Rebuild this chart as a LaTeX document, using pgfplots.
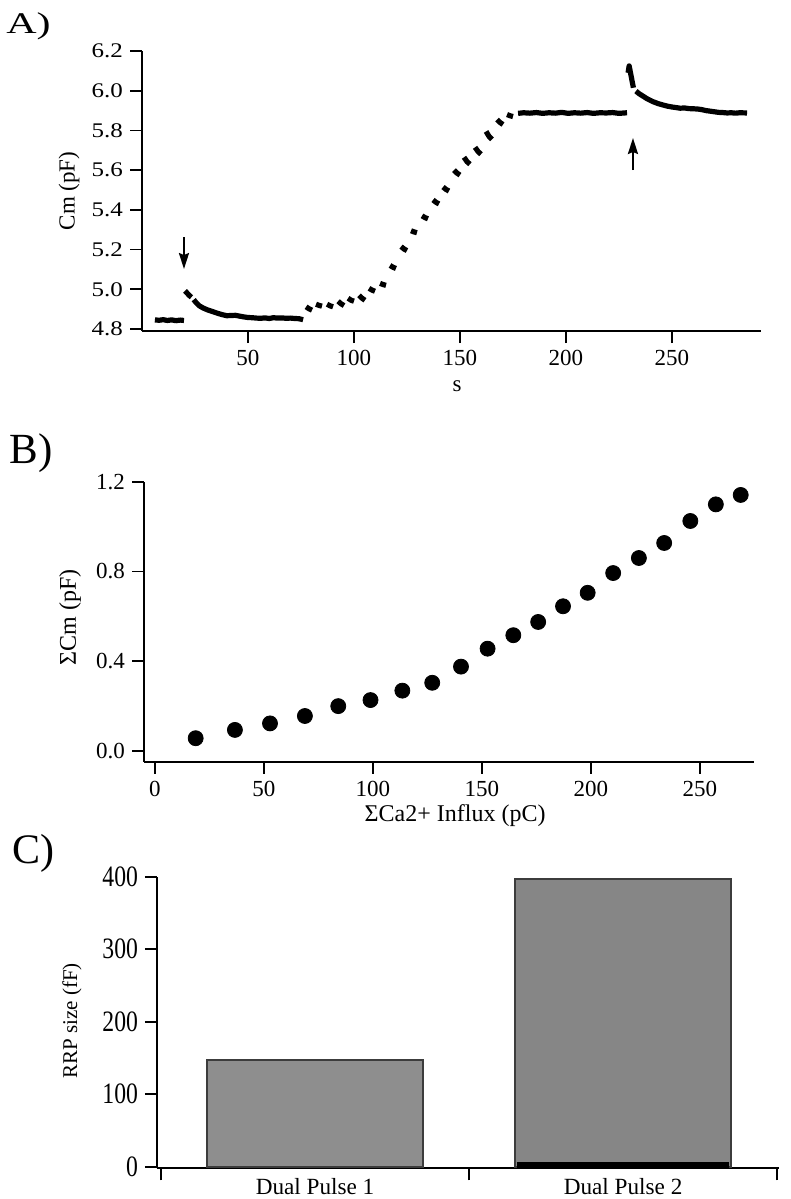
\documentclass[border=0pt]{standalone}
\usepackage{fontspec}
\setmainfont{Liberation Serif}
\newfontfamily\wideserif[FakeStretch=1.2]{Liberation Serif}
\newfontfamily\widerserif[FakeStretch=1.4]{Liberation Serif}
\newfontfamily\narrowserif[FakeStretch=0.8]{Liberation Serif}
\usepackage{graphicx}
\usepackage{pgfplots}
\pgfplotsset{compat=1.18}
\usetikzlibrary{arrows.meta}
\definecolor{barA}{RGB}{142,142,142}
\definecolor{barB}{RGB}{134,134,134}
\definecolor{barEdge}{RGB}{60,60,60}
\pgfplotsset{paper/.style={scale only axis, anchor=south west, axis lines=left,
  axis line style={-, line width=0.9pt}, tick align=outside, major tick length=6pt,
  tick style={line width=0.9pt, black}, clip=false}}
\begin{document}
\begin{tikzpicture}
\path[use as bounding box] (0,0) rectangle (395.5pt,-599.5pt);
\node[anchor=base west, inner sep=0pt, font=\fontsize{15}{16}\widerserif] at (3pt,-16.5pt) {A)};
\node[anchor=base west, inner sep=0pt, font=\fontsize{21.5}{22}\selectfont] at (4.5pt,-231.5pt) {B)};
\node[anchor=base west, inner sep=0pt, font=\fontsize{21}{22}\selectfont] at (6pt,-431.5pt) {C)};
% y-axis titles
\node[rotate=90, anchor=center, inner sep=0pt, font=\fontsize{11.5}{12}\selectfont] at (34.5pt,-95.5pt) {Cm (pF)};
\node[rotate=90, anchor=center, inner sep=0pt, font=\fontsize{12}{13}\selectfont] at (35pt,-308.75pt) {ΣCm (pF)};
\node[rotate=90, anchor=center, inner sep=0pt, font=\fontsize{10.5}{12}\selectfont] at (36pt,-510.5pt) {RRP size (fF)};

% ---------------- Panel A
\begin{axis}[paper, at={(71pt,-165.5pt)}, width=309.5pt, height=140pt,
  xmin=0, xmax=292, ymin=4.79, ymax=6.2,
  xtick={50,100,150,200,250}, xticklabels={50,100,150,200,250},
  ytick={4.8,5.0,5.2,5.4,5.6,5.8,6.0,6.2},
  yticklabels={4.8,5.0,5.2,5.4,5.6,5.8,6.0,6.2},
  xticklabel style={font=\fontsize{11.5}{12}\selectfont},
  yticklabel style={font=\fontsize{10.4}{12}\wideserif},
  xlabel={s},
  every axis x label/.style={at={(axis description cs:0.509,-0.196)}, anchor=center, font=\fontsize{11.5}{12}\selectfont},
  unbounded coords=jump]
\addplot[black, line width=2.6pt, line join=round] coordinates {
(6.1,4.846)(8,4.844)(10,4.847)(12,4.843)(14,4.846)(16,4.842)(18,4.845)(19.8,4.843)
(19.9,nan)
(20.3,4.992)(21.2,4.982)(22.2,4.970)(23.3,4.960)
(23.8,nan)
(24.4,4.948)(25.5,4.933)(27,4.917)(29,4.905)(31,4.896)(33.5,4.887)(36,4.878)(38,4.872)(40,4.867)(42,4.868)(44,4.869)(46,4.865)(48,4.861)(50,4.858)(52,4.857)(54,4.855)(56,4.854)(58,4.856)(60,4.853)(62,4.857)(64,4.855)(66,4.856)(68,4.854)(70,4.855)(72,4.853)(74,4.852)(76,4.847)
(76.8,nan)
(77.4,4.912)(78.8,4.902)(80.2,4.895)(81,nan)
(82.1,4.925)(83.5,4.919)(84.9,4.915)(85.5,nan)
(87.3,4.925)(88.7,4.917)(90.1,4.912)(91,nan)
(92.5,4.940)(93.9,4.927)(95.3,4.918)(96,nan)
(97.2,4.955)(98.6,4.945)(100.0,4.940)(101,nan)
(102.4,4.970)(103.8,4.955)(105.2,4.945)(106,nan)
(107.1,5.005)(108.5,4.996)(109.9,4.990)(110.5,nan)
(112.3,5.030)(113.7,5.024)(115.1,5.020)(116,nan)
(117.0,5.120)(118.4,5.111)(119.8,5.105)(120.5,nan)
(122.2,5.215)(123.6,5.203)(125.0,5.195)(126,nan)
(126.9,5.295)(128.3,5.289)(129.7,5.285)(130.5,nan)
(132.1,5.370)(133.5,5.361)(134.9,5.355)(135.5,nan)
(137.3,5.450)(138.7,5.438)(140.1,5.430)(141,nan)
(142.0,5.515)(143.4,5.503)(144.8,5.495)(145.5,nan)
(147.2,5.600)(148.6,5.585)(150.0,5.575)(151,nan)
(151.9,5.665)(153.3,5.643)(154.7,5.630)(155.5,nan)
(157.1,5.715)(158.5,5.694)(159.9,5.680)(160.5,nan)
(162.3,5.795)(163.7,5.770)(165.1,5.755)(166,nan)
(167.5,5.855)(168.9,5.840)(170.3,5.830)(171,nan)
(172.2,5.880)(173.6,5.874)(175.0,5.870)(176,nan)
(177.4,5.886)(180,5.889)(183,5.887)(186,5.890)(189,5.886)(192,5.889)(195,5.887)(198,5.891)(201,5.886)(204,5.889)(207,5.887)(210,5.890)(213,5.886)(216,5.889)(219,5.888)(222,5.890)(225,5.886)(228.8,5.889)
(229.1,nan)
(229.3,6.090)(229.8,6.125)(230.8,6.070)(231.8,6.015)
(232.3,nan)
(233,5.998)(234.5,5.985)(236,5.975)(238.2,5.960)(241,5.945)(243.5,5.935)(245.8,5.928)(248,5.922)(250,5.918)(252,5.915)(253.8,5.912)(256,5.913)(258,5.910)(260,5.909)(262,5.908)(264,5.905)(266,5.900)(268,5.897)(270,5.894)(272,5.891)(274,5.890)(276,5.888)(278,5.889)(280,5.887)(282,5.889)(285.4,5.888)
};
\draw[line width=1.1pt, -{Stealth[length=8pt,width=5pt,inset=1pt]}] (axis cs:19.8,5.263) -- (axis cs:19.8,5.102);
\draw[line width=1.1pt, -{Stealth[length=8pt,width=5pt,inset=1pt]}] (axis cs:231.6,5.60) -- (axis cs:231.6,5.762);
\end{axis}

% ---------------- Panel B
\begin{axis}[paper, at={(72pt,-380.85pt)}, width=305pt, height=140pt,
  xmin=-5, xmax=274.8, ymin=-0.0477, ymax=1.2,
  xtick={0,50,100,150,200,250}, xticklabels={0,50,100,150,200,250},
  ytick={0,0.4,0.8,1.2}, yticklabels={0.0,0.4,0.8,1.2},
  ticklabel style={font=\fontsize{11.5}{12}\selectfont},
  xlabel={ΣCa2+ Influx (pC)},
  every axis x label/.style={at={(axis description cs:0.51,-0.194)}, anchor=center, font=\fontsize{12}{13}\selectfont}]
\addplot[only marks, mark=*, mark size=3.75pt, black] coordinates {
(18.7,0.057)(36.7,0.094)(52.8,0.123)(68.8,0.156)(84.1,0.200)(98.9,0.227)(113.5,0.269)(127.2,0.304)(140.4,0.376)(152.6,0.456)(164.4,0.516)(175.8,0.575)(187.2,0.645)(198.5,0.705)(210.2,0.793)(222,0.860)(233.6,0.927)(245.6,1.025)(257.3,1.099)(268.7,1.141)
};
\end{axis}

% ---------------- Panel C
\begin{axis}[paper, at={(78.5pt,-584.15pt)}, width=311pt, height=145.8pt,
  xmin=-0.513, xmax=1.506, ymin=-2.2, ymax=400,
  xtick={0,1}, xticklabels={Dual Pulse 1, Dual Pulse 2},
  major x tick style={draw=none},
  minor xtick={-0.5,0.5,1.5}, minor tick length=6pt,
  ytick={0,100,200,300,400}, yticklabels={0,100,200,300,400},
  xticklabel style={font=\fontsize{11.6}{12}\selectfont, yshift=4.5pt},
  yticklabel style={font=\fontsize{14.8}{15}\narrowserif}]
\addplot[ybar, bar width=0.7, bar shift=0, fill=barA, draw=barEdge, line width=1.2pt] coordinates {(0,147)};
\addplot[ybar, bar width=0.7, bar shift=0, fill=barB, draw=barEdge, line width=1.2pt] coordinates {(1,397)};
\draw[line width=3pt, black] (axis cs:0.655,1.8) -- (axis cs:1.345,1.8);
\end{axis}
\end{tikzpicture}
\end{document}
